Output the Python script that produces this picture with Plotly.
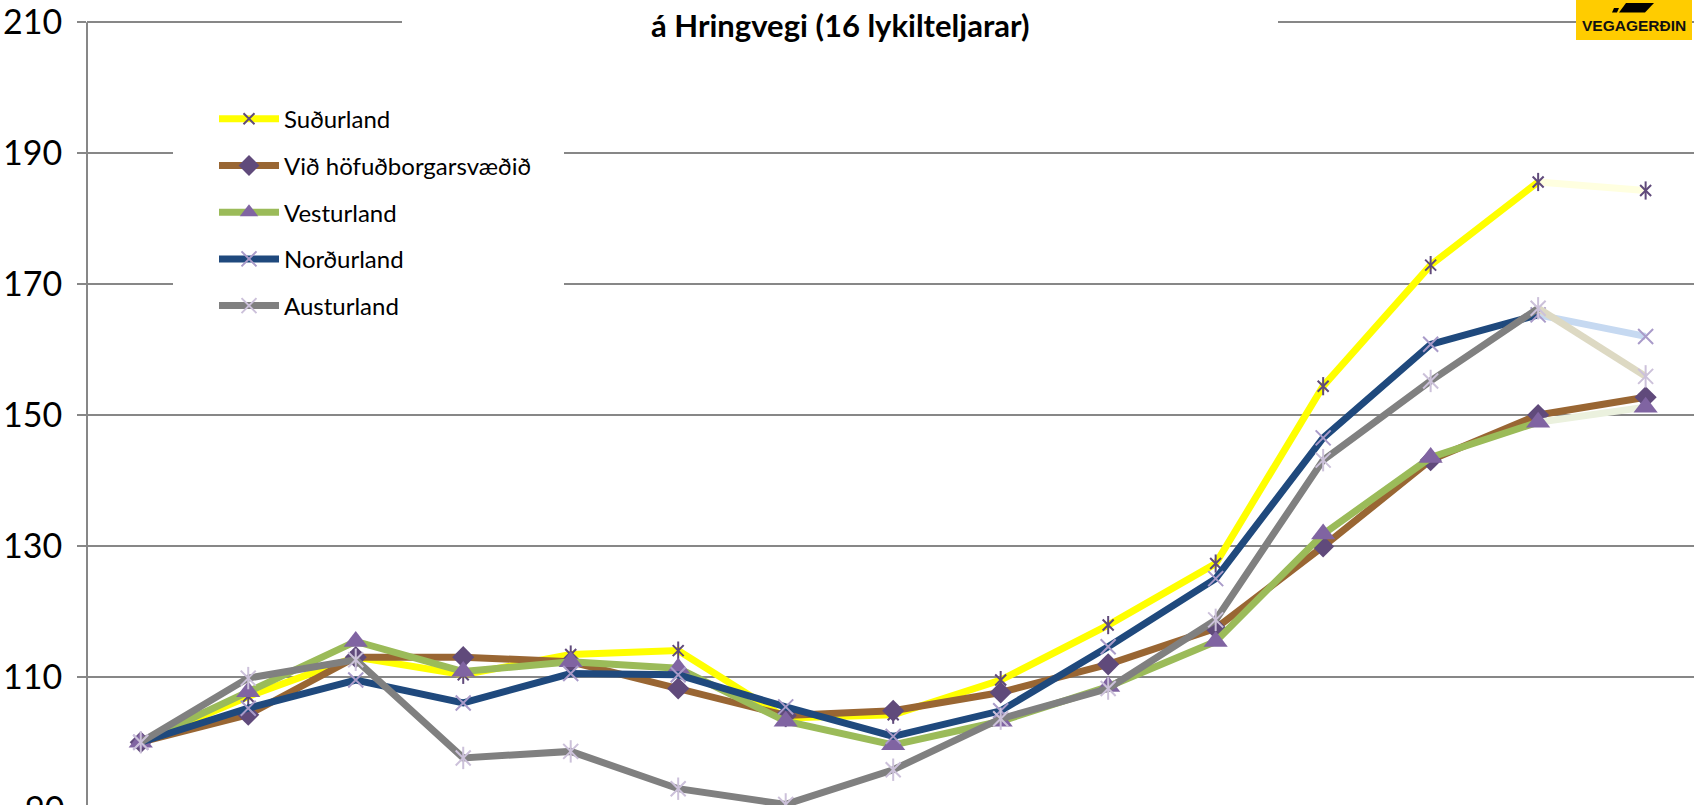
import plotly.graph_objects as go

# ---------------- data ----------------
periods = list(range(15))  # 15 unlabeled time points
series_names = ["Suðurland", "Við höfuðborgarsvæðið", "Vesturland", "Norðurland", "Austurland"]
sudurland = [100, 107.0, 113.0, 110.3, 113.4, 114.0, 103.7, 104.2, 109.5, 117.9, 127.3, 154.4, 172.9, 185.6, 184.3]
hofudborg = [100, 104.2, 113.0, 113.0, 112.3, 108.2, 104.1, 104.8, 107.6, 111.9, 117.4, 129.9, 143.1, 150.0, 152.7]
vesturland = [100, 107.7, 115.4, 110.8, 112.3, 111.3, 103.2, 99.6, 103.2, 108.5, 115.4, 131.8, 143.5, 148.9, 151.2]
nordurland = [100, 105.2, 109.5, 106.0, 110.5, 110.3, 105.4, 100.9, 104.8, 114.6, 125.0, 146.5, 160.8, 165.3, 162.0]
austurland = [100, 109.8, 112.6, 97.6, 98.6, 92.9, 90.5, 95.8, 103.6, 108.2, 118.7, 143.1, 155.2, 166.3, 155.9]
series_values = [sudurland, hofudborg, vesturland, nordurland, austurland]
y_ticks = [90, 110, 130, 150, 170, 190, 210]
title_text = "á Hringvegi (16 lykilteljarar)"
logo_text = "VEGAGERÐIN"

# ---------------- styles ----------------
line_colors = ["#FFFF00", "#996633", "#9BBB59", "#1F497D", "#808080"]
last_seg_colors = ["#FFFFE0", "#996633", "#EBF1DE", "#C6D9F1", "#DDD9C3"]
marker_symbols = ["x-thin", "diamond", "triangle-up", "x-thin", "x-thin"]
marker_colors = ["#604A7B", "#604A7B", "#8064A2", "#A99BC9", "#CCC1DA"]
marker_sizes = [11, 17, 21, 15, 15]
marker_lw = [2, 0, 0, 2, 2]
star_bar_sizes = [13, None, None, None, 16]  # vertical bar of the star markers

FW, FH = 1694, 805
ML, MT = 87, 13
PW, PH = FW - ML, FH - MT
def px(x):
    return (x - ML) / PW
def py(y):
    return (FH - y) / PH

GRID = "#878787"
FONT = "Lato"
Y_RANGE = [90.41, 210.96]
def yval_to_paper(v):
    return (v - Y_RANGE[0]) / (Y_RANGE[1] - Y_RANGE[0])

fig = go.Figure()
for i, (name, vals) in enumerate(zip(series_names, series_values)):
    grp = "g%d" % i
    fig.add_trace(go.Scatter(
        x=periods[-2:], y=vals[-2:], mode="lines",
        line=dict(color=last_seg_colors[i], width=7),
        legendgroup=grp, showlegend=False, hoverinfo="skip"))
    mk = dict(symbol=marker_symbols[i], size=marker_sizes[i], color=marker_colors[i],
              line=dict(color=marker_colors[i], width=marker_lw[i]))
    fig.add_trace(go.Scatter(
        x=periods[:-1], y=vals[:-1], mode="lines+markers", name=name,
        line=dict(color=line_colors[i], width=7), marker=mk,
        legendgroup=grp, showlegend=True))
    fig.add_trace(go.Scatter(
        x=periods[-1:], y=vals[-1:], mode="markers", marker=mk,
        legendgroup=grp, showlegend=False))
    if star_bar_sizes[i]:
        fig.add_trace(go.Scatter(
            x=periods, y=vals, mode="markers",
            marker=dict(symbol="line-ns", size=star_bar_sizes[i], color=marker_colors[i],
                        line=dict(color=marker_colors[i], width=2)),
            legendgroup=grp, showlegend=False, hoverinfo="skip"))

shapes = [
    # y axis line, from the bottom up to the 210 gridline
    dict(type="line", xref="paper", yref="y", x0=0, x1=0, y0=Y_RANGE[0], y1=y_ticks[-1],
         line=dict(color=GRID, width=2), layer="above"),
    # legend background box
    dict(type="rect", xref="paper", yref="paper", x0=px(173), x1=px(564), y0=py(335), y1=py(85),
         fillcolor="white", line=dict(width=0), layer="above"),
    # title background box
    dict(type="rect", xref="paper", yref="paper", x0=px(402), x1=px(1278), y0=py(55), y1=py(0),
         fillcolor="white", line=dict(width=0), layer="above"),
    # logo
    dict(type="rect", xref="paper", yref="paper", x0=px(1576), x1=px(1692), y0=py(37), y1=py(-5),
         fillcolor="#FFCC00", line=dict(width=0), layer="above"),
    dict(type="path", xref="paper", yref="paper",
         path="M %f,%f L %f,%f L %f,%f L %f,%f Z" % (px(1626), py(0), px(1654), py(0), px(1645), py(9.5), px(1619), py(9.5)),
         fillcolor="black", line=dict(width=0), layer="above"),
    dict(type="path", xref="paper", yref="paper",
         path="M %f,%f L %f,%f L %f,%f L %f,%f Z" % (px(1614), py(5), px(1619), py(5), px(1617), py(9.5), px(1612), py(9.5)),
         fillcolor="black", line=dict(width=0), layer="above"),
]

annotations = [
    dict(text="<b>%s</b>" % title_text, xref="paper", yref="paper", x=px(840), y=py(22),
         xanchor="center", yanchor="middle", showarrow=False,
         font=dict(family=FONT, size=31, color="black")),
    dict(text="<b>%s</b>" % logo_text, xref="paper", yref="paper", x=px(1634), y=py(23),
         xanchor="center", yanchor="middle", showarrow=False,
         font=dict(family="Liberation Sans", size=15.5, color="#111111")),
    # lowest tick label (its tick lies just below the visible area)
    dict(text=str(y_ticks[0]), xref="paper", yref="paper", x=px(66), y=yval_to_paper(y_ticks[0]),
         xanchor="right", yanchor="middle", showarrow=False,
         font=dict(family=FONT, size=34, color="black")),
]

fig.update_layout(
    width=FW, height=FH,
    margin=dict(l=ML, r=0, t=MT, b=0, pad=0),
    paper_bgcolor="white", plot_bgcolor="white",
    showlegend=True,
    legend=dict(x=px(214), y=py(94), xanchor="left", yanchor="top",
                bgcolor="rgba(255,255,255,0)", borderwidth=0,
                font=dict(family=FONT, size=24, color="black"),
                traceorder="grouped", tracegroupgap=12.5, itemwidth=60),
    xaxis=dict(range=[-0.5, 14.45], showgrid=False, zeroline=False, showline=False,
               showticklabels=False, ticks=""),
    yaxis=dict(range=Y_RANGE, tickvals=y_ticks[1:], showgrid=True, gridcolor=GRID, gridwidth=2,
               zeroline=False, showline=False,
               ticks="outside", ticklen=9, tickcolor=GRID, tickwidth=2,
               tickfont=dict(family=FONT, size=34, color="black"), ticklabelstandoff=8,
               ticklabeloverflow="allow"),
    shapes=shapes, annotations=annotations,
    font=dict(family=FONT),
)

# remove the browser's default 8px page margin so the figure fills the window
fig.write_html("out.html", config={"displayModeBar": False},
               post_script="document.body.style.margin='0px';")
